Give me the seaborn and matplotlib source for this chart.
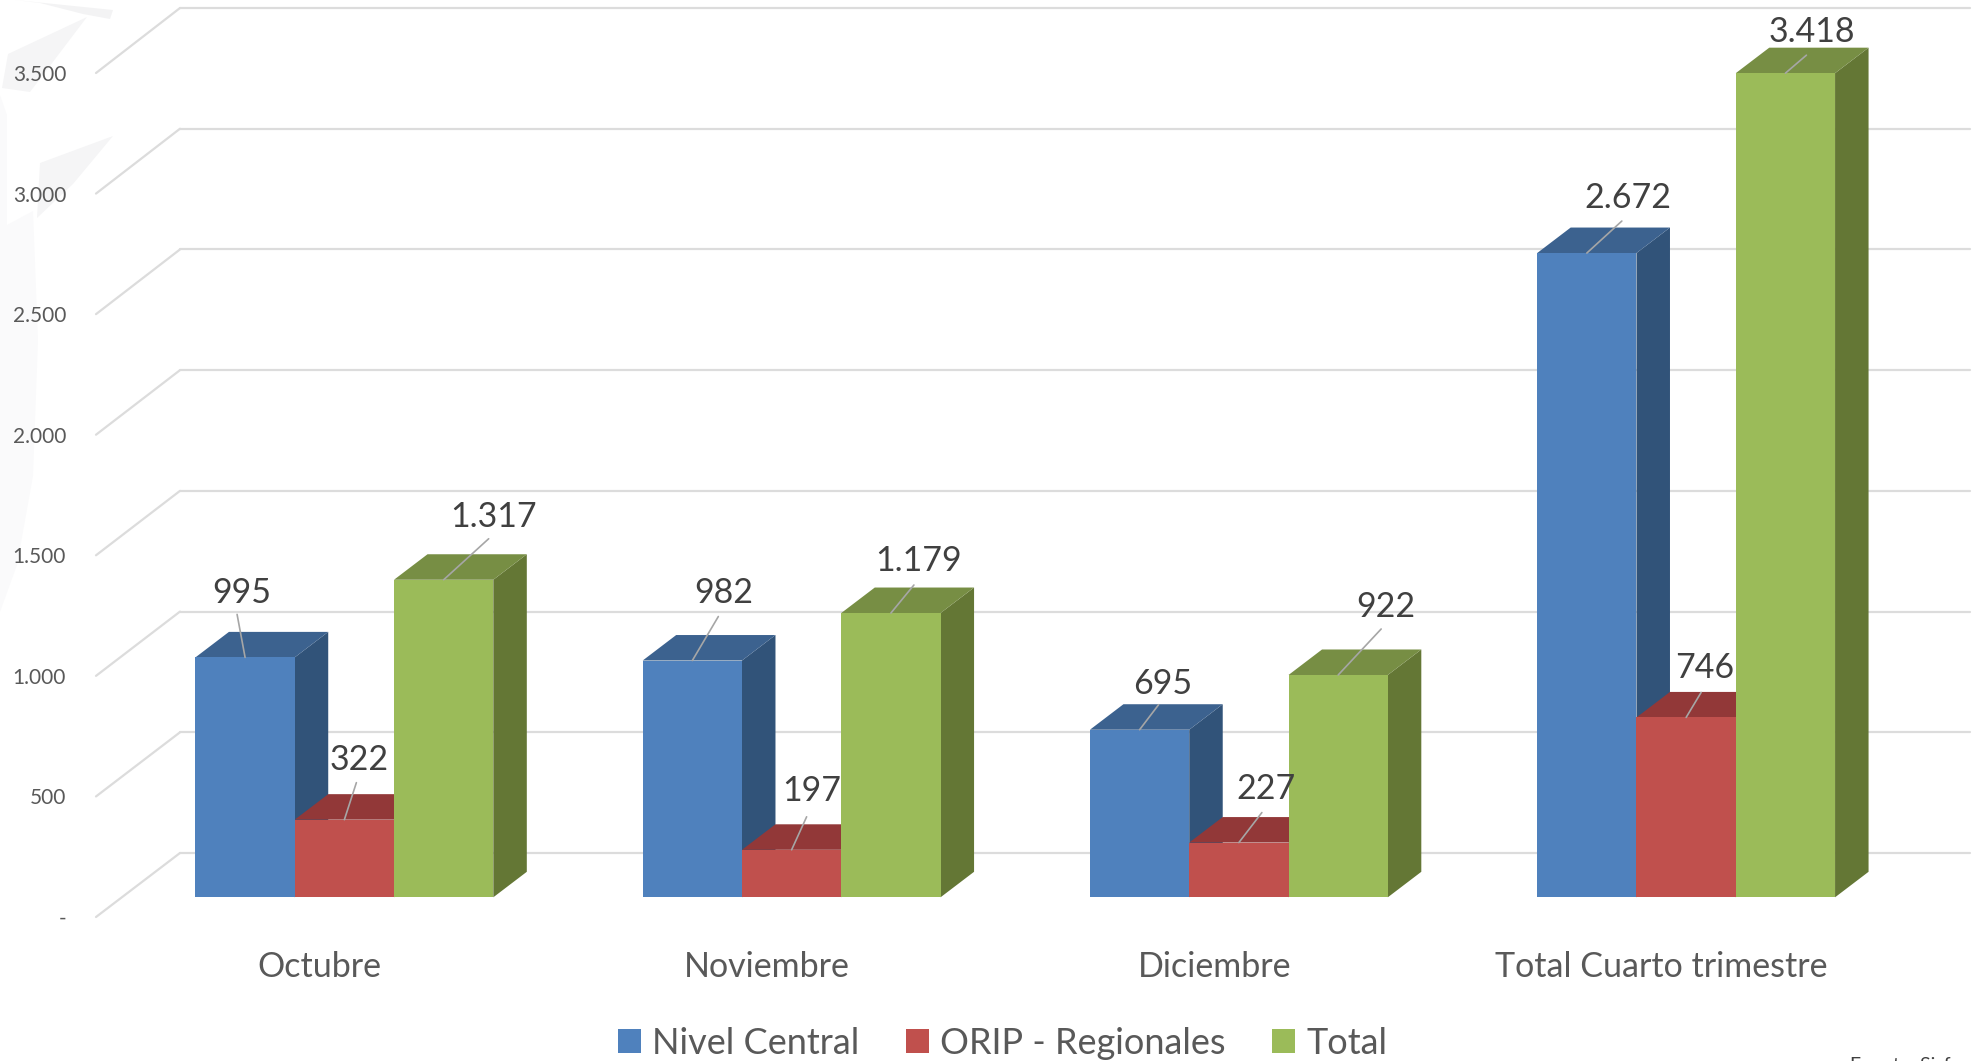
import numpy as np
import pandas as pd
import matplotlib.pyplot as plt
from matplotlib.patches import ConnectionPatch, Polygon
import seaborn as sns

# values
PERIODS = ["Octubre", "Noviembre", "Diciembre", "Total Cuarto trimestre"]
NIVEL_CENTRAL = [995, 982, 695, 2672]
ORIP_REGIONALES = [322, 197, 227, 746]
TOTAL = [1317, 1179, 922, 3418]
SERIES = ["Nivel Central", "ORIP - Regionales", "Total"]
Y_TICKS = [0, 500, 1000, 1500, 2000, 2500, 3000, 3500]

# colours per series: front, side, top
FRONT = ["#4F81BD", "#C0504D", "#9BBB59"]
SIDE = ["#315379", "#8F3A38", "#647735"]
TOP = ["#3C628F", "#923838", "#778E44"]

# hand-placed labels in the original, pixel offsets from the top centre of each bar
LABEL_OFFSETS = [
    [(-3, 64), (31, 68), (23, 46), (41, 55)],
    [(15, 60), (20, 59), (27, 54), (19, 49)],
    [(50, 63), (28, 52), (48, 68), (26, 41)],
]
LEADER_OFFSETS = [
    [(-8, 43), (26, 44), (19, 25), (35, 32)],
    [(12, 37), (15, 33), (23, 30), (15, 25)],
    [(45, 41), (23, 28), (43, 46), (21, 18)],
]

# faint watermark behind the chart, pixel outlines
WATERMARK = [
    ([(0, 95), (7, 115), (7, 225), (33, 211), (38, 340), (33, 476), (17, 565), (0, 612)], "#FAFAFB"),
    ([(15, 0), (113, 10), (110, 19), (83, 14), (40, 3)], "#F3F3F4"),
    ([(8, 54), (87, 17), (43, 75), (30, 92), (2, 88)], "#F5F5F6"),
    ([(40, 163), (113, 136), (73, 184), (37, 218)], "#F5F5F6"),
]

W, H = 1985, 1061
DEPTH_PX = (33.5, 25.5)


def plane_axes(fig, left, right, y_zero, y_top):
    # one axes per depth plane of the fake 3D box, all with the same scale
    ax = fig.add_axes([left / W, 1 - y_zero / H, (right - left) / W, (y_zero - y_top) / H])
    ax.set_xlim(-0.5, 3.5)
    ax.set_ylim(0, 3500)
    ax.patch.set_alpha(0)
    sns.despine(ax=ax, left=True, bottom=True)
    ax.tick_params(length=0)
    return ax


def fmt(v):
    return "-" if v == 0 else f"{v:,}".replace(",", ".")


def draw_depth(ax):
    # side and top faces go under the front faces, series by series
    dx = DEPTH_PX[0] * 4 / (ax.get_position().width * W)
    dy = DEPTH_PX[1] * 3500 / (ax.get_position().height * H)
    for s, container in enumerate(ax.containers):
        for bar in container:
            x0, x1, h = bar.get_x(), bar.get_x() + bar.get_width(), bar.get_height()
            ax.add_patch(Polygon([(x1, 0), (x1 + dx, dy), (x1 + dx, h + dy), (x1, h)],
                                 fc=SIDE[s], ec="none", zorder=0.5, clip_on=False))
            ax.add_patch(Polygon([(x0, h), (x1, h), (x1 + dx, h + dy), (x0 + dx, h + dy)],
                                 fc=TOP[s], ec="none", zorder=0.5, clip_on=False))


def draw_labels(ax):
    for s, container in enumerate(ax.containers):
        for i, bar in enumerate(container):
            xy = (bar.get_x() + bar.get_width() / 2, bar.get_height())
            ax.annotate("", xy=xy, xytext=LEADER_OFFSETS[s][i], textcoords="offset pixels",
                        arrowprops=dict(arrowstyle="-", color="#A6A6A6", lw=1.2, shrinkA=0, shrinkB=0),
                        zorder=5, annotation_clip=False)
            ax.annotate(fmt(int(bar.get_height())), xy=xy, xytext=LABEL_OFFSETS[s][i],
                        textcoords="offset pixels", ha="center", va="center",
                        fontsize=24.5, color="#404040", zorder=6, annotation_clip=False)


def main():
    sns.set_theme(style="white")
    plt.rcParams["font.family"] = ["Lato", "DejaVu Sans"]

    df = pd.DataFrame({
        "periodo": PERIODS * 3,
        "serie": np.repeat(SERIES, 4),
        "valor": NIVEL_CENTRAL + ORIP_REGIONALES + TOTAL,
    })

    fig = plt.figure(figsize=(W / 100, H / 100), dpi=100, facecolor="white")

    for outline, colour in WATERMARK:
        pts = [(x / W, 1 - y / H) for x, y in outline]
        fig.add_artist(Polygon(pts, fc=colour, ec="none", transform=fig.transFigure, zorder=-1))

    # back wall with the gridlines
    ax_back = plane_axes(fig, 180, 1970, 853, 8)
    ax_back.set_yticks(Y_TICKS)
    ax_back.set_xticks([])
    ax_back.tick_params(labelleft=False)
    ax_back.grid(axis="y", color="#DCDCDC", lw=1.6)
    for line in ax_back.get_ygridlines():
        line.set_clip_on(False)

    # front edge carries the axis labels
    ax_front = plane_axes(fig, 96, 1885, 917, 73)
    ax_front.set_yticks(Y_TICKS, [fmt(v) for v in Y_TICKS])
    ax_front.set_xticks(range(len(PERIODS)), PERIODS)
    ax_front.tick_params(axis="y", labelsize=15, labelcolor="#595959", pad=21.5)
    ax_front.tick_params(axis="x", labelsize=24.5, labelcolor="#595959", pad=24.5)

    # side wall and floor lines between the two planes
    for v in Y_TICKS:
        fig.add_artist(ConnectionPatch((-0.5, v), (-0.5, v), ax_front.transData, ax_back.transData,
                                       color="#DCDCDC", lw=1.6))

    ax_bars = plane_axes(fig, 120.75, 1909.75, 897.3, 53.4)
    sns.barplot(data=df, x="periodo", y="valor", hue="serie", hue_order=SERIES, palette=FRONT,
                width=0.666, gap=0, saturation=1, linewidth=0, ax=ax_bars, zorder=1)
    ax_bars.set_xlim(-0.5, 3.5)
    ax_bars.set_ylim(0, 3500)
    draw_depth(ax_bars)
    draw_labels(ax_bars)
    sns.move_legend(ax_bars, "center", bbox_to_anchor=(1002.5 / W, 1 - 1043 / H),
                    bbox_transform=fig.transFigure, ncol=3, title=None, frameon=False,
                    fontsize=26, labelcolor="#595959", handlelength=0.64, handleheight=0.64,
                    handletextpad=0.3, columnspacing=1.3, borderpad=0)
    ax_bars.axis("off")

    # source line, almost entirely cut off by the bottom edge in the original
    fig.text(1850 / W, 1 - 1057 / H, "Fuente: Sisf", fontsize=14, color="#404040", va="top")

    fig.savefig("out.png", dpi=100)


if __name__ == "__main__":
    main()
